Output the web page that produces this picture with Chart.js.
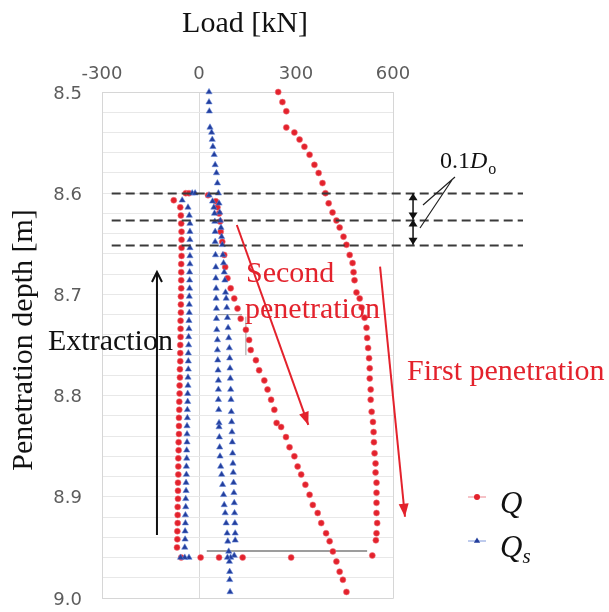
<!DOCTYPE html>
<html>
<head>
<meta charset="utf-8">
<title>Load vs penetration depth</title>
<script src="https://cdn.jsdelivr.net/npm/chart.js@4.4.1/dist/chart.umd.min.js"></script>
<style>
  html, body { margin: 0; padding: 0; background: #fff; }
  canvas { display: block; }
</style>
</head>
<body>
<canvas id="loadChart" width="609" height="612"></canvas>
<script>
// Axis ranges and ticks
const loadTicks = [-300, 0, 300, 600];
const depthMin = 8.5;
const depthMax = 9.0;

// First penetration
const firstDepth = [8.500, 8.510, 8.519, 8.535, 8.540, 8.547, 8.554, 8.562, 8.572, 8.580,
  8.590, 8.600, 8.610, 8.619, 8.627, 8.634, 8.643, 8.651, 8.661, 8.669,
  8.678, 8.686, 8.698, 8.704, 8.713, 8.723, 8.733, 8.743, 8.753, 8.763,
  8.773, 8.783, 8.794, 8.804, 8.816, 8.826, 8.836, 8.846, 8.857, 8.867,
  8.876, 8.886, 8.896, 8.906, 8.916, 8.926, 8.936, 8.943];
const firstQ = [245, 258, 270, 270, 295, 311, 326, 342, 357, 370,
  382, 391, 401, 413, 425, 435, 447, 456, 466, 475,
  478, 481, 487, 497, 503, 512, 518, 520, 523, 526,
  528, 528, 531, 531, 534, 538, 540, 541, 543, 546,
  546, 549, 549, 549, 549, 551, 549, 547];
const firstQs = [31, 31, 32, 34, 39, 41, 43, 47, 50, 54,
  57, 60, 62, 64, 66, 68, 70, 72, 74, 76,
  78, 80, 82, 84, 86, 88, 90, 92, 94, 95,
  96, 97, 98, 99, 100, 101, 102, 103, 104, 105,
  106, 107, 108, 109, 110, 111, 112, 112];

// Unloading at the bottom of the first stroke
const unloadDepth = [8.958, 8.960, 8.960, 8.960, 8.960, 8.960];
const unloadQ = [536, 285, 135, 62, 5, -55];
const unloadQs = [109, 98, 88, -31, -44, -57];

// Extraction (pulling back up)
const extractDepth = [8.950, 8.942, 8.934, 8.926, 8.918, 8.910, 8.902, 8.894, 8.886, 8.878,
  8.870, 8.862, 8.854, 8.846, 8.838, 8.830, 8.822, 8.814, 8.806, 8.798,
  8.790, 8.782, 8.774, 8.766, 8.758, 8.750, 8.742, 8.734, 8.726, 8.718,
  8.710, 8.702, 8.694, 8.686, 8.678, 8.670, 8.662, 8.654, 8.646, 8.638,
  8.630, 8.622, 8.614, 8.607, 8.600, 8.600];
const extractQ = [-68, -67, -67, -66, -66, -66, -65, -65, -65, -64,
  -64, -64, -63, -63, -62, -62, -62, -61, -61, -60,
  -60, -59, -59, -58, -58, -58, -57, -57, -57, -56,
  -56, -56, -55, -55, -55, -55, -54, -54, -54, -54,
  -55, -56, -58, -78, -41, -31];
const extractQs = [-44, -43, -43, -42, -42, -41, -41, -40, -40, -39,
  -39, -38, -38, -37, -37, -37, -36, -36, -35, -35,
  -34, -34, -33, -33, -33, -32, -32, -31, -31, -30,
  -30, -30, -29, -29, -29, -28, -28, -28, -28, -28,
  -28, -30, -34, -52, -21, -12];

// Second penetration
const secondDepth = [8.602, 8.608, 8.614, 8.620, 8.628, 8.638, 8.648, 8.661, 8.673, 8.684,
  8.694, 8.704, 8.714, 8.724, 8.735, 8.745, 8.755, 8.765, 8.775, 8.785,
  8.794, 8.804, 8.814, 8.827, 8.831, 8.841, 8.851, 8.860, 8.870, 8.878,
  8.888, 8.898, 8.908, 8.916, 8.926, 8.936, 8.944, 8.954, 8.964, 8.974,
  8.982, 8.994];
const secondQ = [28, 52, 57, 62, 65, 67, 72, 78, 81, 88,
  98, 109, 119, 129, 145, 155, 160, 176, 186, 202,
  212, 223, 233, 240, 254, 269, 280, 295, 305, 316,
  329, 342, 352, 367, 378, 393, 404, 414, 425, 435,
  445, 456];
const secondQs = [31, 42, 46, 48, 49, 50, 50, 51, 52, 52,
  53, 53, 54, 54, 55, 57, 57, 58, 59, 60,
  60, 60, 61, 62, 62, 63, 64, 65, 67, 70,
  73, 76, 78, 81, 84, 87, 89, 92, 94, 95,
  95, 96];

// Reference depths spaced 0.1 D_o
const guideDepths = [8.600, 8.626, 8.651];

const SERIF = '"Liberation Serif", "Times New Roman", serif';
const RED = '#e3222c';
const BLUE = '#233e9c';

function toPoints(depths, loads) {
  return depths.map((d, i) => ({ x: loads[i], y: d }));
}

const qPoints = [
  ...toPoints(firstDepth, firstQ),
  ...toPoints(unloadDepth, unloadQ),
  ...toPoints(extractDepth, extractQ),
  ...toPoints(secondDepth, secondQ)
];
const qsPoints = [
  ...toPoints(firstDepth, firstQs),
  ...toPoints(unloadDepth, unloadQs),
  ...toPoints(extractDepth, extractQs),
  ...toPoints(secondDepth, secondQs)
];

// ── drawing helpers ──

function arrowHead(ctx, x1, y1, x2, y2, len, half, filled) {
  const a = Math.atan2(y2 - y1, x2 - x1);
  const bx = x2 - len * Math.cos(a), by = y2 - len * Math.sin(a);
  const nx = -Math.sin(a) * half, ny = Math.cos(a) * half;
  ctx.beginPath();
  ctx.moveTo(bx + nx, by + ny);
  ctx.lineTo(x2, y2);
  ctx.lineTo(bx - nx, by - ny);
  if (filled) { ctx.closePath(); ctx.fill(); } else ctx.stroke();
}

function arrow(ctx, x1, y1, x2, y2, color, width, len, half, filled) {
  ctx.save();
  ctx.strokeStyle = color;
  ctx.fillStyle = color;
  ctx.lineWidth = width;
  ctx.beginPath();
  ctx.moveTo(x1, y1);
  ctx.lineTo(x2, y2);
  ctx.stroke();
  arrowHead(ctx, x1, y1, x2, y2, len, half, filled);
  ctx.restore();
}

function label(ctx, str, x, y, font, color, align) {
  ctx.font = font;
  ctx.fillStyle = color;
  ctx.textAlign = align || 'left';
  ctx.textBaseline = 'alphabetic';
  ctx.fillText(str, x, y);
  return ctx.measureText(str).width;
}

const backdrop = {
  id: 'backdrop',
  beforeDatasetsDraw(chart) {
    const { ctx, chartArea: a, scales: { x, y } } = chart;
    ctx.save();
    // right and bottom frame
    ctx.strokeStyle = '#d6d6d6';
    ctx.lineWidth = 1;
    ctx.beginPath();
    ctx.moveTo(a.right + 0.5, a.top);
    ctx.lineTo(a.right + 0.5, a.bottom + 0.5);
    ctx.lineTo(a.left, a.bottom + 0.5);
    ctx.stroke();

    // grey measuring marks
    ctx.strokeStyle = '#7c7c7c';
    ctx.lineWidth = 1.6;
    ctx.beginPath();
    ctx.moveTo(x.getPixelForValue(24), y.getPixelForValue(8.9536));
    ctx.lineTo(x.getPixelForValue(520), y.getPixelForValue(8.9536));
    ctx.stroke();
    ctx.strokeStyle = '#9a9a9a';
    ctx.lineWidth = 1;
    ctx.beginPath();
    ctx.moveTo(x.getPixelForValue(57), y.getPixelForValue(8.720));
    ctx.lineTo(x.getPixelForValue(133), y.getPixelForValue(8.720));
    ctx.moveTo(x.getPixelForValue(145), y.getPixelForValue(8.722));
    ctx.lineTo(x.getPixelForValue(145), y.getPixelForValue(8.760));
    ctx.stroke();
    ctx.restore();
  },
  afterDraw(chart) {
    const { ctx, scales: { x, y } } = chart;
    ctx.save();

    // dashed guides
    ctx.strokeStyle = '#3a3a3a';
    ctx.lineWidth = 1.8;
    ctx.setLineDash([9, 5]);
    guideDepths.forEach(d => {
      const py = Math.round(y.getPixelForValue(d)) + 0.5;
      ctx.beginPath();
      ctx.moveTo(x.getPixelForValue(-270), py);
      ctx.lineTo(x.getPixelForValue(1002), py);
      ctx.stroke();
    });
    ctx.setLineDash([]);

    // double arrows between guides
    const ax = x.getPixelForValue(662);
    for (let i = 0; i < guideDepths.length - 1; i++) {
      const y1 = y.getPixelForValue(guideDepths[i]);
      const y2 = y.getPixelForValue(guideDepths[i + 1]);
      ctx.strokeStyle = '#111';
      ctx.fillStyle = '#111';
      ctx.lineWidth = 1.5;
      ctx.beginPath();
      ctx.moveTo(ax, y1);
      ctx.lineTo(ax, y2);
      ctx.stroke();
      arrowHead(ctx, ax, y2, ax, y1, 7, 4.5, true);
      arrowHead(ctx, ax, y1, ax, y2, 7, 4.5, true);
    }

    // leaders for 0.1D_o
    ctx.strokeStyle = '#222';
    ctx.lineWidth = 1.2;
    ctx.beginPath();
    ctx.moveTo(455, 177); ctx.lineTo(423, 205);
    ctx.moveTo(452, 180); ctx.lineTo(420, 228);
    ctx.stroke();
    let w = label(ctx, '0.1', 440, 168, '24px ' + SERIF, '#111');
    w += label(ctx, 'D', 440 + w, 168, 'italic 24px ' + SERIF, '#111');
    label(ctx, 'o', 440 + w + 1, 174, '16px ' + SERIF, '#111');

    // extraction arrow
    arrow(ctx, x.getPixelForValue(-130), y.getPixelForValue(8.9378),
      x.getPixelForValue(-130), y.getPixelForValue(8.6779), '#111', 2, 10, 5, false);
    label(ctx, 'Extraction', 48, 350, '30px ' + SERIF, '#111');

    // penetration arrows
    arrow(ctx, x.getPixelForValue(117), y.getPixelForValue(8.6314),
      x.getPixelForValue(338), y.getPixelForValue(8.829), RED, 2, 13, 5, true);
    arrow(ctx, x.getPixelForValue(560), y.getPixelForValue(8.6726),
      x.getPixelForValue(637), y.getPixelForValue(8.9197), RED, 2, 13, 5, true);
    label(ctx, 'Second', 246, 282, '30px ' + SERIF, RED);
    label(ctx, 'penetration', 245, 318, '30px ' + SERIF, RED);
    label(ctx, 'First penetration', 407, 380, '30px ' + SERIF, RED);

    // axis titles
    label(ctx, 'Load [kN]', 245, 32, '30px ' + SERIF, '#111', 'center');
    ctx.save();
    ctx.translate(32, 340);
    ctx.rotate(-Math.PI / 2);
    label(ctx, 'Penetration depth [m]', 0, 0, '30px ' + SERIF, '#111', 'center');
    ctx.restore();

    // legend
    const rows = [
      { y: 497, color: RED, line: 'rgba(235,120,130,0.45)', style: 'circle', r: 3, sub: '' },
      { y: 541, color: BLUE, line: 'rgba(110,140,215,0.45)', style: 'triangle', r: 3.6, sub: 's' }
    ];
    rows.forEach(r => {
      ctx.strokeStyle = r.line;
      ctx.lineWidth = 2;
      ctx.beginPath();
      ctx.moveTo(468, r.y);
      ctx.lineTo(486, r.y);
      ctx.stroke();
      ctx.fillStyle = r.color;
      Chart.helpers.drawPoint(ctx, { pointStyle: r.style, radius: r.r, borderWidth: 0 }, 477, r.y);
      const qw = label(ctx, 'Q', 500, r.y + 16, 'italic 31px ' + SERIF, '#111');
      if (r.sub) label(ctx, r.sub, 500 + qw, r.y + 22, 'italic 21px ' + SERIF, '#111');
    });

    ctx.restore();
  }
};

const isTenth = v => Math.abs(v * 10 - Math.round(v * 10)) < 1e-6;

// pin the plot box: fixed axis thickness and no label overhang padding
function fixBox(size) {
  return s => {
    if (s.isHorizontal()) s.height = size; else s.width = size;
    s.paddingTop = 0;
    s.paddingBottom = 0;
    s.paddingLeft = 0;
    s.paddingRight = 0;
  };
}

new Chart(document.getElementById('loadChart').getContext('2d'), {
  type: 'scatter',
  data: {
    datasets: [
      {
        label: 'Qs',
        data: qsPoints,
        pointStyle: 'triangle',
        pointRadius: 3.6,
        backgroundColor: BLUE,
        borderColor: 'rgba(95,130,215,0.55)',
        borderWidth: 1,
        clip: false
      },
      {
        label: 'Q',
        data: qPoints,
        pointStyle: 'circle',
        pointRadius: 3,
        backgroundColor: RED,
        borderColor: 'rgba(240,115,125,0.55)',
        borderWidth: 1,
        clip: false
      }
    ]
  },
  options: {
    responsive: false,
    animation: false,
    devicePixelRatio: 1,
    layout: { padding: { left: 0, top: 0, right: 216, bottom: 14 } },
    plugins: { legend: { display: false }, tooltip: { enabled: false } },
    scales: {
      x: {
        type: 'linear',
        position: 'top',
        min: loadTicks[0],
        max: loadTicks[loadTicks.length - 1],
        afterBuildTicks: s => { s.ticks = loadTicks.map(v => ({ value: v })); },
        ticks: {
          padding: 7,
          color: '#5c5c5c',
          font: { family: '"DejaVu Sans", sans-serif', size: 18 },
          callback: v => String(v)
        },
        grid: {
          drawTicks: false,
          color: c => (c.tick && c.tick.value === 0 ? '#dadada' : 'rgba(0,0,0,0)')
        },
        border: { color: '#d6d6d6' },
        afterFit: fixBox(92)
      },
      y: {
        type: 'linear',
        reverse: true,
        min: depthMin,
        max: depthMax,
        ticks: {
          stepSize: 0.02,
          autoSkip: false,
          padding: 20,
          labelOffset: 2,
          color: '#5c5c5c',
          font: { family: '"DejaVu Sans", sans-serif', size: 18 },
          callback: v => (isTenth(v) ? v.toFixed(1) : '')
        },
        grid: { drawTicks: false, color: '#e8e8e8' },
        border: { color: '#d6d6d6' },
        afterFit: fixBox(102)
      }
    }
  },
  plugins: [backdrop]
});
</script>
</body>
</html>
